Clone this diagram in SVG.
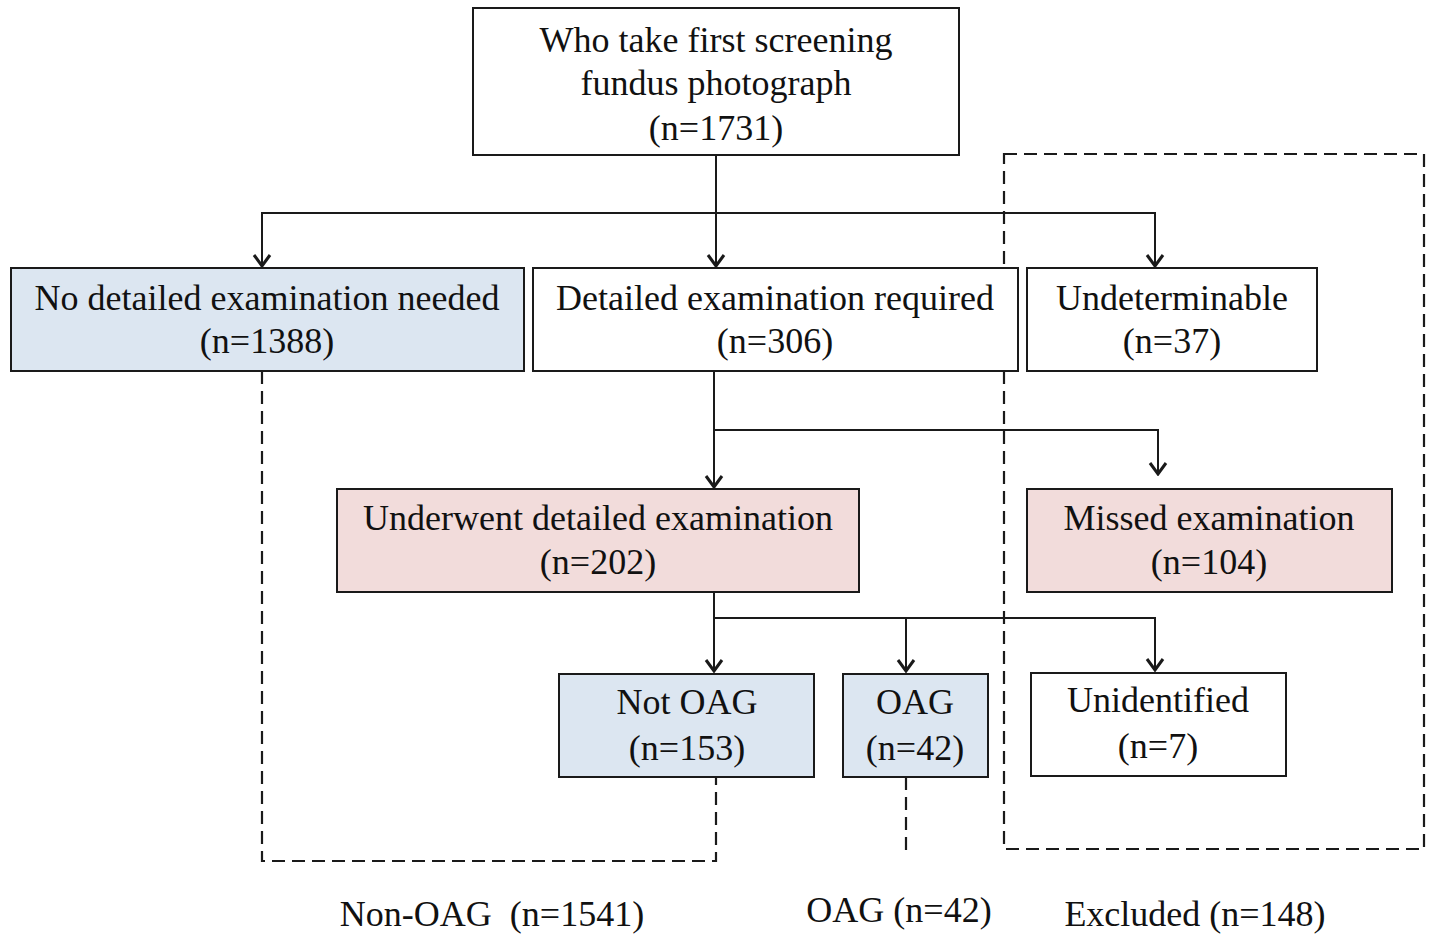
<svg xmlns="http://www.w3.org/2000/svg" width="1432" height="934" viewBox="0 0 1432 934">
<style>
.box{stroke:#1a1a1a;stroke-width:2}
.w{fill:#ffffff}
.b{fill:#dce6f1}
.p{fill:#f2dcdb}
text{font-family:"Liberation Serif","Times New Roman",serif;font-size:36px;fill:#111;text-anchor:middle}
.ln{fill:none;stroke:#1a1a1a;stroke-width:2}
.ds{fill:none;stroke:#1a1a1a;stroke-width:2.2;stroke-dasharray:13 7}
</style>
<defs>
<marker id="ah" viewBox="0 0 20 20" refX="18" refY="10" markerWidth="20" markerHeight="20" markerUnits="userSpaceOnUse" orient="auto-start-reverse">
<path d="M7,2 L18,10 L7,18" fill="none" stroke="#1a1a1a" stroke-width="3"/>
</marker>
</defs>
<rect width="1432" height="934" fill="#ffffff"/>
<g id="connectors">
<path class="ln" d="M716,155 V213"/>
<path class="ln" d="M262,266 V213 H1155 V266" marker-start="url(#ah)" marker-end="url(#ah)"/>
<path class="ln" d="M716,213 V266" marker-end="url(#ah)"/>
<path class="ln" d="M714,371 V487" marker-end="url(#ah)"/>
<path class="ln" d="M714,430 H1158 V474" marker-end="url(#ah)"/>
<path class="ln" d="M714,592 V671" marker-end="url(#ah)"/>
<path class="ln" d="M714,618 H1155 V670" marker-end="url(#ah)"/>
<path class="ln" d="M906,618 V671" marker-end="url(#ah)"/>
<path class="ds" d="M262,371 V861 H716 V777"/>
<path class="ds" d="M906,777 V851"/>
<rect class="ds" x="1004" y="154" width="420" height="695"/>
</g>
<g id="n-start">
<rect class="box w" x="473" y="8" width="486" height="147"/>
<text x="716" y="52">Who take first screening</text>
<text x="716" y="95">fundus photograph</text>
<text x="716" y="140">(n=1731)</text>
</g>
<g id="n-no-detailed">
<rect class="box b" x="11" y="268" width="513" height="103"/>
<text x="267" y="310">No detailed examination needed</text>
<text x="267" y="353">(n=1388)</text>
</g>
<g id="n-detailed">
<rect class="box w" x="533" y="268" width="485" height="103"/>
<text x="775" y="310">Detailed examination required</text>
<text x="775" y="353">(n=306)</text>
</g>
<g id="n-undet">
<rect class="box w" x="1027" y="268" width="290" height="103"/>
<text x="1172" y="310">Undeterminable</text>
<text x="1172" y="353">(n=37)</text>
</g>
<g id="n-underwent">
<rect class="box p" x="337" y="489" width="522" height="103"/>
<text x="598" y="530">Underwent detailed examination</text>
<text x="598" y="574">(n=202)</text>
</g>
<g id="n-missed">
<rect class="box p" x="1027" y="489" width="365" height="103"/>
<text x="1209" y="530">Missed examination</text>
<text x="1209" y="574">(n=104)</text>
</g>
<g id="n-notoag">
<rect class="box b" x="559" y="674" width="255" height="103"/>
<text x="687" y="714">Not OAG</text>
<text x="687" y="760">(n=153)</text>
</g>
<g id="n-oag">
<rect class="box b" x="843" y="674" width="145" height="103"/>
<text x="915" y="714">OAG</text>
<text x="915" y="760">(n=42)</text>
</g>
<g id="n-unident">
<rect class="box w" x="1031" y="673" width="255" height="103"/>
<text x="1158" y="712">Unidentified</text>
<text x="1158" y="758">(n=7)</text>
</g>
<g id="labels">
<text x="492" y="926" xml:space="preserve">Non-OAG  (n=1541)</text>
<text x="899" y="922">OAG (n=42)</text>
<text x="1195" y="926">Excluded (n=148)</text>
</g>
</svg>
